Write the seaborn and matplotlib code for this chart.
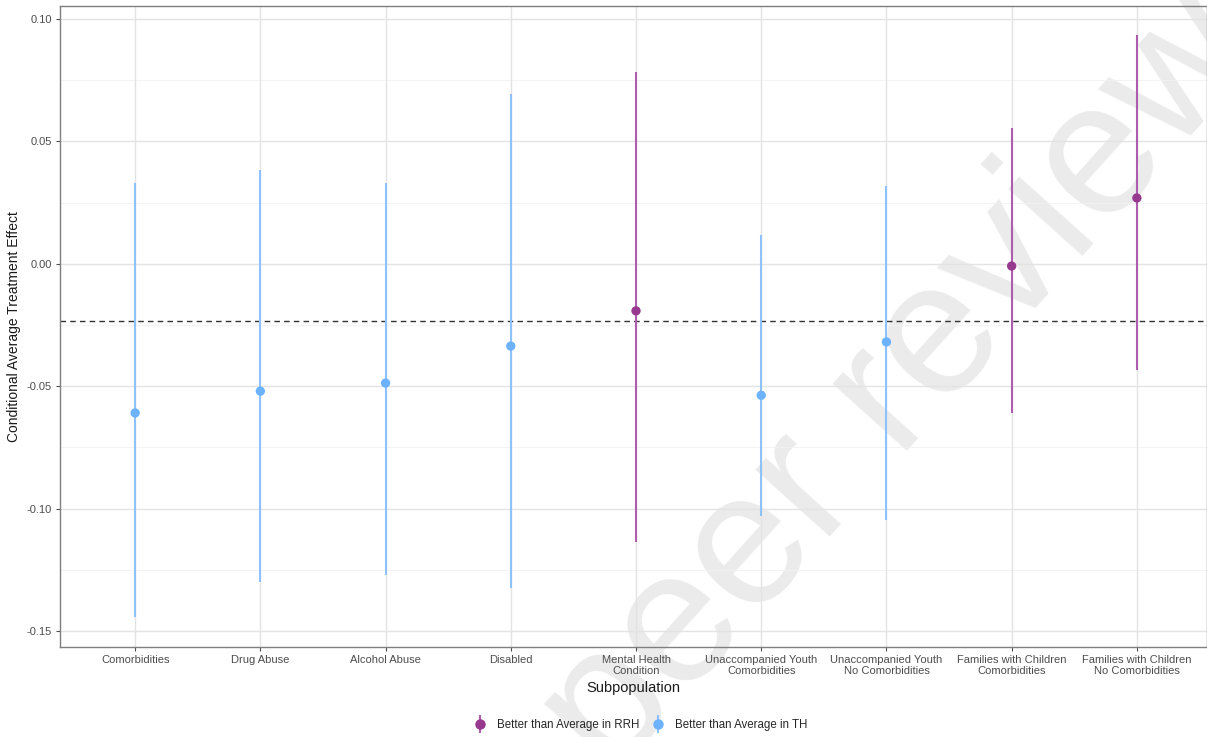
import numpy as np
import pandas as pd
import matplotlib
matplotlib.use("Agg")
import matplotlib.pyplot as plt
import seaborn as sns
from matplotlib.lines import Line2D
from matplotlib.legend_handler import HandlerTuple

categories = ["Comorbidities", "Drug Abuse", "Alcohol Abuse", "Disabled",
              "Mental Health\nCondition", "Unaccompanied Youth\nComorbidities",
              "Unaccompanied Youth\nNo Comorbidities", "Families with Children\nComorbidities",
              "Families with Children\nNo Comorbidities"]
estimate = [-0.0609, -0.0520, -0.0487, -0.0336, -0.0192, -0.0537, -0.0319, -0.0009, 0.0269]
upper = [0.0330, 0.0383, 0.0330, 0.0694, 0.0783, 0.0119, 0.0316, 0.0556, 0.0934]
lower = [-0.1443, -0.1300, -0.1270, -0.1324, -0.1137, -0.1028, -0.1047, -0.0610, -0.0434]
group = ["TH", "TH", "TH", "TH", "RRH", "TH", "TH", "RRH", "RRH"]
average_effect = -0.0234
legend_labels = {"RRH": "Better than Average in RRH", "TH": "Better than Average in TH"}
watermark = "peer reviewed"

point_colors = {"RRH": "#973A8F", "TH": "#6DB2FF"}
line_colors = {"RRH": "#AE5CAC", "TH": "#8DC2FF"}

df = pd.DataFrame({"Subpopulation": categories, "CATE": estimate,
                   "upper": upper, "lower": lower, "group": group})

sns.set_theme(style="white")
plt.rcParams["font.family"] = ["Liberation Sans", "DejaVu Sans"]
plt.rcParams["axes.unicode_minus"] = False

fig = plt.figure(figsize=(12.07, 7.37), dpi=100)
ax = fig.add_axes([60 / 1207, 1 - 647 / 737, 1 - 60 / 1207, (647 - 6) / 737])
ax.set_zorder(1)
ax.set_facecolor("none")

# watermark behind the panel content
fig.text(0.805, 0.585, watermark, fontsize=136, color="#EBEBEB",
         rotation=48, ha="center", va="center", zorder=-5)

# grid
yt_major = [-0.15, -0.10, -0.05, 0.00, 0.05, 0.10]
yt_minor = [-0.125, -0.075, -0.025, 0.025, 0.075]
xpos = np.arange(len(categories))
for y in yt_major:
    ax.axhline(y, color="#E3E3E3", lw=1.0, zorder=0)
for y in yt_minor:
    ax.axhline(y, color="#F1F1F1", lw=0.6, zorder=0)
for x in xpos:
    ax.axvline(x, color="#E3E3E3", lw=1.0, zorder=0)

ax.axhline(average_effect, color="#333333", lw=1.0, ls=(0, (4, 3)), zorder=2)

for g in ["RRH", "TH"]:
    sub = df[df.group == g]
    idx = sub.index.values
    ax.vlines(idx, sub.lower, sub.upper, color=line_colors[g], lw=1.5, zorder=3)

sns.scatterplot(data=df, x="Subpopulation", y="CATE", hue="group",
                palette=point_colors, s=45, edgecolor="none", legend=False,
                ax=ax, zorder=4)

ax.set_xlim(-0.6, len(categories) - 1 + 0.56)
ax.set_ylim(-0.1565, 0.1053)
ax.set_yticks(yt_major)
ax.set_yticklabels([f"{v:.2f}" for v in yt_major])
ax.set_xticks(xpos)
ax.set_xticklabels(categories, linespacing=1.05)
ax.tick_params(axis="both", labelsize=8, colors="#4D4D4D", length=3, width=0.8,
               direction="out", pad=3, bottom=True, left=True)
for lab in ax.get_xticklabels() + ax.get_yticklabels():
    lab.set_color("#4D4D4D")
ax.set_xlabel("Subpopulation", fontsize=10.5, color="#1A1A1A", labelpad=4)
ax.set_ylabel("Conditional Average Treatment Effect", fontsize=10, color="#1A1A1A", labelpad=4)
for s in ax.spines.values():
    s.set_color("#7F7F7F")
    s.set_linewidth(1.0)

handles = []
for g in ["RRH", "TH"]:
    h_line = Line2D([], [], color=line_colors[g], marker="|", markersize=13,
                    markeredgewidth=1.5, linestyle="none")
    h_pt = Line2D([], [], color=point_colors[g], marker="o", markersize=6.5,
                  linestyle="none")
    handles.append((h_line, h_pt))
fig.legend(handles, [legend_labels["RRH"], legend_labels["TH"]],
           handler_map={tuple: HandlerTuple(ndivide=1, pad=0)},
           loc="center", bbox_to_anchor=(0.531, 0.016), ncol=2, frameon=False,
           fontsize=8.3, handlelength=1.0, handletextpad=1.0, columnspacing=1.06)

fig.savefig("out.png", dpi=100)
